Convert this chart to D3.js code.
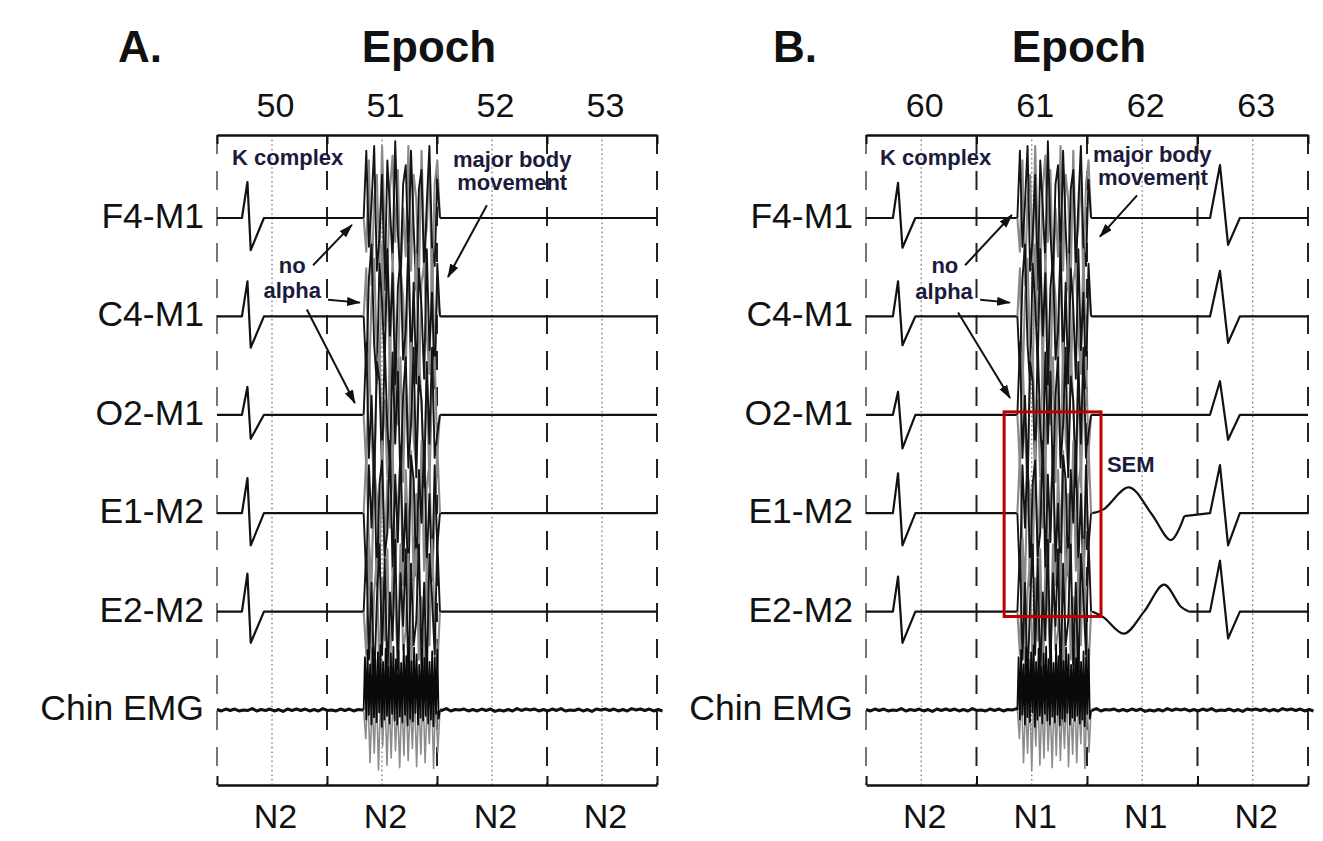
<!DOCTYPE html>
<html><head><meta charset="utf-8">
<script src="https://cdn.jsdelivr.net/npm/d3@7"></script>
<style>
body{margin:0;background:#fff;}
svg{display:block;font-family:"Liberation Sans",Arial,Helvetica,sans-serif;}
</style></head><body>
<svg id="fig" width="1323" height="841"></svg>
<script>
// ---- recording channels and scoring ----
const channels = ["F4-M1", "C4-M1", "O2-M1", "E1-M2", "E2-M2", "Chin EMG"];
const epochsA = [50, 51, 52, 53];
const stagesA = ["N2", "N2", "N2", "N2"];
const epochsB = [60, 61, 62, 63];
const stagesB = ["N2", "N1", "N1", "N2"];

// K complex: [onset, peak, trough, end] in seconds of the 120 s window, amplitudes in µV per EEG/EOG channel
const kTimesA = [6.8, 8.3, 9.2, 12.8];
const kPeakA = [75, 73, 58, 73, 79];
const kTroughA = [-67, -65, -50, -67, -65];
const kTimesB1 = [7.3, 8.7, 9.9, 13.4];
const kPeakB1 = [73, 73, 48, 83, 73];
const kTroughB1 = [-62, -60, -70, -67, -65];
const kTimesB2 = [93.4, 96.1, 98.3, 101.5];
const kPeakB2 = [110, 95, 70, 100, 106];
const kTroughB2 = [-56, -55, -52, -67, -56];

// major body movement interval (s)
const burstA = [40.0, 60.8];
const burstB = [41.1, 61.1];

// movement artifact samples (µV), dark and light overlapping traces per channel
const artDark = [
  [0,140,-60,30,150,-110,-40,90,-150,120,20,-90,160,-30,-130,70,110,-80,140,-20,-150,60,100,-120,30,150,-60,-100,80,0],
  [0,-120,80,150,-60,-140,110,30,-100,140,-40,90,-150,60,120,-90,-30,150,-110,70,-140,100,20,-130,140,-70,50,-150,110,0],
  [0,150,-90,40,-140,110,70,-120,150,-30,-100,130,-60,90,-150,40,120,-110,-20,140,-130,80,30,-150,110,-60,140,-90,-40,0],
  [0,-140,100,-30,130,-150,60,110,-90,-40,150,-120,80,-60,140,-100,20,-150,120,70,-130,90,-20,150,-110,40,-140,100,-70,0],
  [0,130,-100,60,-150,20,140,-90,110,-140,40,-60,150,-120,80,-30,130,-150,100,-70,-20,140,-110,60,-140,120,30,-90,150,0]
];
const artLight = [
  [0,-70,120,-140,40,90,-100,150,-30,-120,60,130,-50,100,-140,20,-80,150,-110,90,40,-130,140,-60,-20,110,-150,70,120,0],
  [0,100,-150,40,120,-80,-130,150,-20,90,-110,130,-60,-140,100,40,-120,150,-90,20,130,-150,70,110,-40,-120,140,-90,60,0],
  [0,-110,130,-40,-150,90,140,-70,30,-130,150,-100,60,-20,120,-140,80,-90,150,-50,-110,130,20,-120,90,-150,60,120,-80,0],
  [0,120,-60,-150,90,40,-130,150,-100,70,-30,140,-120,20,110,-150,90,-60,130,-140,40,-90,150,-120,60,100,-130,-20,140,0],
  [0,-90,150,-120,40,110,-140,70,-60,130,-150,90,20,-110,140,-80,-40,120,-150,60,130,-100,30,-140,110,-70,150,-20,-120,0]
];

// chin EMG: background activity across the window and the movement burst (µV)
const emgNoise = [1,-2,2,-1,2,-2,0,-1,3,-2,1,-1,2,-2,1,-3,2,-1,2,-1,2,-2,1,-2,3,-1,0,-2,2,-1,2,-2,1,0,3,-2,1,-2,2,-1,0,-2,2,-3,1,-1,2,-2,0,-2,2,-1,3,-2,1,0,2,-2,1,-2,2,-1,2,-3,0,-2,1,-2,3,-1,2,0,2,-2,1,-2,2,-1,3,-2,0,-1,2,-2,1,-3,2,0,2,-1,2,-2,1,-2,3,0,2,-1,2,-2,1,-2];
const emgBurstDark = [0,110,-20,125,-10,95,-30,130,-15,105,-25,120,-5,135,-35,100,-20,128,-12,90,-28,118,-8,132,-22,106,-30,124,-14,98,-26,136,-10,112,-32,126,-18,102,-24,130,-6,116,-30,94,-16,128,-22,108,-12,134,-28,100,-20,122,-34,110,-8,126,-18,0];
const emgBurstLight = [0,-60,40,-110,20,-90,50,-125,30,-75,45,-115,25,-100,60,-85,15,-120,35,-95,55,-105,20,-80,40,-118,30,-92,48,-110,25,-70,52,-122,38,-88,0];

// slow eye movements after the arousal (panel B): [time s, µV]
const semE1 = [[61.4,0],[64.5,8],[71.4,54],[77.4,0],[82.8,-56],[86.4,-6]];
const semE2 = [[61.4,0],[64.5,-12],[70.0,-46],[75.5,0],[80.9,56],[85.5,10],[87.6,0]];

// ---- layout ----
const svg = d3.select("#fig");
const yTop = 135, yBot = 785;
const ych = d3.scaleLinear().domain([0, 5]).range([218, 710]);
const amp = d3.scaleLinear().domain([-100, 100]).range([48, -48]);
const bounds = [0, 30, 60, 90, 120];
const mids = [15, 45, 75, 105];
const ink = "#111";
const noteInk = "#1b1b3d";

const defs = svg.append("defs");
defs.append("marker").attr("id", "arrow")
  .attr("markerUnits", "userSpaceOnUse")
  .attr("markerWidth", 16).attr("markerHeight", 12)
  .attr("refX", 13).attr("refY", 4.5).attr("orient", "auto")
  .append("path").attr("d", "M0,0 L14,4.5 L0,9 Z").attr("fill", ink);

function kPoints(times, pk, tr) {
  return [[times[0], 0], [times[1], pk], [times[2], tr], [times[3], 0]];
}

function drawPanel(p) {
  const g = svg.append("g");
  const x = d3.scaleLinear().domain([0, 120]).range([p.left, p.right]);
  const line = (ci) => d3.line().x(d => x(d[0])).y(d => ych(ci) + amp(d[1]));

  // mid-epoch dotted guides
  g.selectAll("line.mid").data(mids).join("line")
    .attr("x1", d => x(d)).attr("x2", d => x(d))
    .attr("y1", yTop).attr("y2", yBot)
    .attr("stroke", "#7a7a7a").attr("stroke-width", 1.3)
    .attr("stroke-dasharray", "1.6,3");

  // epoch boundaries (dashed)
  g.selectAll("line.bound").data(bounds).join("line")
    .attr("x1", d => x(d)).attr("x2", d => x(d))
    .attr("y1", yTop).attr("y2", yBot)
    .attr("stroke", (d, i) => (i === 0 ? "#777" : "#222")).attr("stroke-width", 2)
    .attr("stroke-dasharray", "19,17");

  // top and bottom frame axes
  const topAx = g.append("g").attr("transform", `translate(0,${yTop})`)
    .call(d3.axisTop(x).tickValues(bounds).tickSize(-9).tickSizeOuter(0).tickFormat(""));
  const botAx = g.append("g").attr("transform", `translate(0,${yBot})`)
    .call(d3.axisBottom(x).tickValues(bounds).tickSize(-9).tickSizeOuter(0).tickFormat(""));
  [topAx, botAx].forEach(a => {
    a.select(".domain").attr("stroke", ink).attr("stroke-width", 2.4);
    a.selectAll(".tick line").attr("stroke", ink).attr("stroke-width", 2);
  });

  // epoch numbers
  const numAx = g.append("g").attr("transform", `translate(3,${yTop})`)
    .call(d3.axisTop(x).tickValues(mids).tickSize(0).tickPadding(18).tickFormat((d, i) => p.epochs[i]));
  numAx.select(".domain").remove();
  numAx.selectAll("text").attr("font-size", 34).attr("fill", ink).attr("font-family", null);

  // sleep stage per epoch
  const stAx = g.append("g").attr("transform", `translate(3,${yBot})`)
    .call(d3.axisBottom(x).tickValues(mids).tickSize(0).tickPadding(19).tickFormat((d, i) => p.stages[i]));
  stAx.select(".domain").remove();
  stAx.selectAll("text").attr("font-size", 34).attr("fill", ink).attr("font-family", null);

  // panel letter and title
  g.append("text").attr("x", p.left + p.letterDx).attr("y", 62)
    .attr("font-size", 44).attr("font-weight", "bold").attr("fill", ink).text(p.letter);
  g.append("text").attr("x", (p.left + p.right) / 2 - 8).attr("y", 62).attr("text-anchor", "middle")
    .attr("font-size", 44).attr("font-weight", "bold").attr("fill", ink).text("Epoch");

  // channel labels
  g.selectAll("text.ch").data(channels).join("text")
    .attr("x", p.left - 13).attr("y", (d, i) => ych(i) - 2)
    .attr("text-anchor", "end").attr("dominant-baseline", "central")
    .attr("font-size", 35.5).attr("fill", ink).text(d => d);

  const b0 = p.burst[0], b1 = p.burst[1];
  const traces = g.append("g").attr("fill", "none").attr("stroke-linejoin", "round");

  // EEG / EOG channels
  for (let ci = 0; ci < 5; ci++) {
    const pre = [[0, 0]].concat(kPoints(p.k1[0], p.k1[1][ci], p.k1[2][ci]), [[b0, 0]]);
    traces.append("path").attr("d", line(ci)(pre)).attr("stroke", ink).attr("stroke-width", 2.2);

    let post = [[b1, 0]];
    if (p.sem && ci >= 3) {
      const sem = ci === 3 ? semE1 : semE2;
      traces.append("path").attr("d", line(ci).curve(d3.curveCatmullRom)(sem))
        .attr("stroke", ink).attr("stroke-width", 2.2);
      post = [sem[sem.length - 1]];
    }
    if (p.k2) post = post.concat(kPoints(p.k2[0], p.k2[1][ci], p.k2[2][ci]));
    post.push([120, 0]);
    traces.append("path").attr("d", line(ci)(post)).attr("stroke", ink).attr("stroke-width", 2.2);

    // movement artifact
    [[artLight[ci], "#8a8a8a", 2.1], [artDark[ci], "#141414", 1.9]].forEach(([vals, col, w]) => {
      const step = (b1 - b0) / (vals.length - 1);
      const pts = vals.map((v, i) => [b0 + i * step, v]);
      traces.append("path").attr("d", line(ci)(pts)).attr("stroke", col).attr("stroke-width", w);
    });
  }

  // chin EMG
  const emgStep = 121.5 / (emgNoise.length - 1);
  const emgPts = emgNoise.map((v, i) => [i * emgStep, v]);
  const emgLine = line(5);
  traces.append("path").attr("d", emgLine(emgPts.filter(d => d[0] <= b0).concat([[b0, 0]])))
    .attr("stroke", ink).attr("stroke-width", 3);
  traces.append("path").attr("d", emgLine([[b1, 0]].concat(emgPts.filter(d => d[0] >= b1))))
    .attr("stroke", ink).attr("stroke-width", 3);
  [[emgBurstLight, "#8c8c8c", 1.6], [emgBurstDark, "#0a0a0a", 1.8]].forEach(([vals, col, w]) => {
    const step = (b1 - b0) / (vals.length - 1);
    traces.append("path").attr("d", emgLine(vals.map((v, i) => [b0 + i * step, v])))
      .attr("stroke", col).attr("stroke-width", w);
  });

  // annotations
  const px = (t) => x(t), py = (c) => ych(c);
  const notes = g.append("g").attr("font-weight", "bold").attr("font-size", 22).attr("fill", noteInk);
  p.texts.forEach(n => {
    notes.append("text").attr("x", px(n.t)).attr("y", py(n.c))
      .attr("text-anchor", n.anchor || "start").text(n.s);
  });
  p.arrows.forEach(a => {
    g.append("line").attr("x1", px(a[0])).attr("y1", py(a[1]))
      .attr("x2", px(a[2])).attr("y2", py(a[3]))
      .attr("stroke", ink).attr("stroke-width", 2).attr("marker-end", "url(#arrow)");
  });
  if (p.box) {
    g.append("rect").attr("x", px(p.box[0])).attr("y", py(p.box[2]))
      .attr("width", px(p.box[1]) - px(p.box[0])).attr("height", py(p.box[3]) - py(p.box[2]))
      .attr("fill", "none").attr("stroke", "#c00000").attr("stroke-width", 3);
  }
}

drawPanel({
  letter: "A.", letterDx: -99, left: 217, right: 657,
  epochs: epochsA, stages: stagesA, burst: burstA,
  k1: [kTimesA, kPeakA, kTroughA], k2: null, sem: false, box: null,
  texts: [
    { t: 4.1, c: -0.54, s: "K complex" },
    { t: 80.5, c: -0.52, s: "major body", anchor: "middle" },
    { t: 80.5, c: -0.28, s: "movement", anchor: "middle" },
    { t: 20.5, c: 0.56, s: "no", anchor: "middle" },
    { t: 20.5, c: 0.81, s: "alpha", anchor: "middle" }
  ],
  arrows: [
    [26.2, 0.48, 36.8, 0.07],
    [30.3, 0.83, 39.0, 0.86],
    [24.5, 0.93, 37.6, 1.88],
    [73.6, -0.13, 63.0, 0.60]
  ]
});

drawPanel({
  letter: "B.", letterDx: -93, left: 866, right: 1308,
  epochs: epochsB, stages: stagesB, burst: burstB,
  k1: [kTimesB1, kPeakB1, kTroughB1], k2: [kTimesB2, kPeakB2, kTroughB2], sem: true,
  box: [37.5, 63.8, 1.97, 4.05],
  texts: [
    { t: 3.8, c: -0.54, s: "K complex" },
    { t: 77.7, c: -0.57, s: "major body", anchor: "middle" },
    { t: 77.9, c: -0.34, s: "movement", anchor: "middle" },
    { t: 21.4, c: 0.56, s: "no", anchor: "middle" },
    { t: 21.2, c: 0.82, s: "alpha", anchor: "middle" },
    { t: 65.4, c: 2.58, s: "SEM" }
  ],
  arrows: [
    [26.9, 0.48, 39.6, -0.03],
    [31.0, 0.83, 39.1, 0.86],
    [25.0, 0.96, 39.1, 1.83],
    [73.6, -0.23, 63.5, 0.19]
  ]
});
</script>
</body></html>
